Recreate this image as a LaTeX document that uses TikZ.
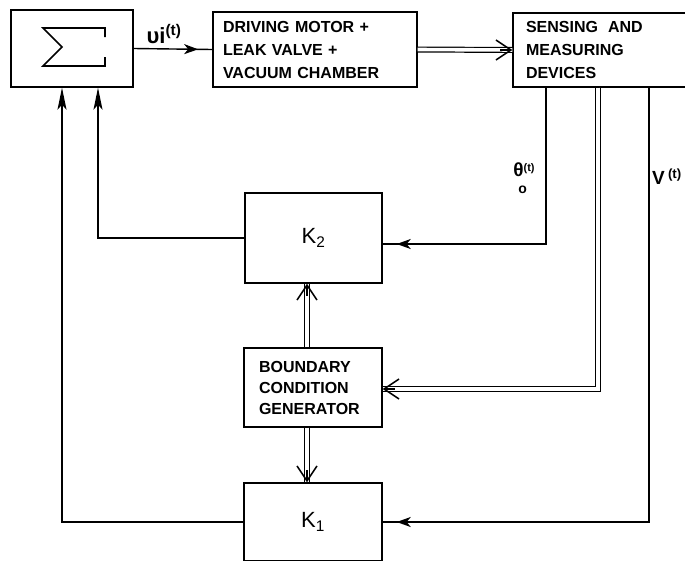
\documentclass[tikz,border=0pt]{standalone}
\usepackage{fontspec}
\setmainfont{Liberation Sans}
\usetikzlibrary{arrows.meta,decorations.markings}
\begin{document}
\begin{tikzpicture}[x=1pt,y=-1pt, line width=1.4pt,
  box/.style={draw, rectangle, inner sep=0pt},
  lbl/.style={font=\fontsize{16}{23}\selectfont\bfseries, align=left},
  sigarr/.style={-{Stealth[length=22pt,width=9pt,inset=5pt]}},
  midarr/.style={postaction={decorate,decoration={markings,mark=at position #1 with {\arrow{Stealth[length=14pt,width=10pt,inset=4pt]}}}}},
  dbl/.style={double, double distance=3.6pt, line width=1.2pt},
  barb/.style={line width=1.4pt, -{Straight Barb[length=15pt,width=20pt,line width=1.5pt]}}]
\useasboundingbox (0,0) rectangle (685,560);
\clip (0,0) rectangle (685,560);

% boxes
\node[box, minimum width=122pt, minimum height=77pt] (sig) at (72,48.5) {};
\draw[line width=1.6pt, line join=miter] (105,37) -- (105,28) -- (43,28) -- (62,47) -- (43,66) -- (105,66) -- (105,57);

\node[box, lbl, text width=184pt, inner xsep=10pt, minimum height=75pt] (drv) at (315,49.5)
  {DRIVING MOTOR +\\LEAK VALVE +\\VACUUM CHAMBER};
\node[box, lbl, text width=151pt, inner xsep=13pt, minimum height=74pt] (sens) at (601.5,50)
  {SENSING\hspace{10pt}AND\\MEASURING\\DEVICES};
\node[box, font=\fontsize{22}{22}\selectfont, minimum width=137pt, minimum height=90pt] (k2) at (313.5,238)
  {K\textsubscript{2}};
\node[box, lbl, font=\fontsize{16}{21}\selectfont\bfseries, text width=108pt, inner xsep=15pt, minimum height=79pt] (bcg) at (313,387.5)
  {BOUNDARY\\CONDITION\\GENERATOR};
\node[box, font=\fontsize{22}{22}\selectfont, minimum width=138pt, minimum height=78pt] (k1) at (313,522)
  {K\textsubscript{1}};

% helper coordinates
\coordinate (tx) at (546,244);
\coordinate (dx) at (598,389);
\coordinate (vx) at (649,521);
\coordinate (bx) at (307,0);
\coordinate (s1) at (62,0);
\coordinate (s2) at (98,0);

% connectors
\draw[midarr=0.82] (sig.east) -- (drv.west);
\draw[dbl] (drv.east) -- (sens.west);
\draw[barb] ([xshift=-12pt]sens.west) -- (sens.west);
\draw[midarr=-14pt] (sens.south -| tx) |- (k2.east |- tx);
\draw[dbl] (sens.south -| dx) |- (bcg.east |- dx);
\draw[barb] ([xshift=12pt]bcg.east |- dx) -- (bcg.east |- dx);
\draw[midarr=-14pt] (sens.south -| vx) |- (k1.east);
\draw[dbl] (bcg.north -| bx) -- (k2.south -| bx);
\draw[barb] ([yshift=-12pt]k2.south -| bx) -- (k2.south -| bx);
\draw[dbl] (bcg.south -| bx) -- (k1.north -| bx);
\draw[barb] ([yshift=12pt]k1.north -| bx) -- (k1.north -| bx);
\draw[sigarr] (k2.west) -| (sig.south -| s2);
\draw[sigarr] (k1.west) -| (sig.south -| s1);

% labels
\node[font=\fontsize{22}{22}\selectfont\bfseries] (vin) at (164,34) {υi\textsuperscript{(t)}};
\node[font=\fontsize{19}{17}\selectfont\bfseries, align=left] (th) at (524,178)
  {θ{\fontsize{11}{11}\selectfont\raisebox{5pt}{(t)}}\\\hspace{5pt}{\fontsize{14}{14}\selectfont o}};
\node[font=\fontsize{19}{19}\selectfont\bfseries] (vt) at (667,177) {V\,\textsuperscript{(t)}};
\end{tikzpicture}
\end{document}
